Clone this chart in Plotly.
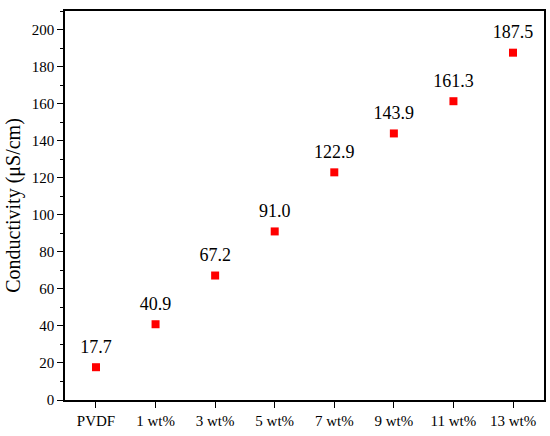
import plotly.graph_objs as go

# Sample labels and conductivity values (uS/cm)
samples = ['PVDF', '1 wt%', '3 wt%', '5 wt%', '7 wt%', '9 wt%', '11 wt%', '13 wt%']
conductivity = [17.7, 40.9, 67.2, 91.0, 122.9, 143.9, 161.3, 187.5]
value_labels = ['17.7', '40.9', '67.2', '91.0', '122.9', '143.9', '161.3', '187.5']

fig = go.Figure()

# red square markers
fig.add_trace(go.Scatter(
    x=samples,
    y=conductivity,
    mode='markers',
    marker=dict(symbol='square', size=8, color='#ff0000'),
    showlegend=False
))

# value labels (invisible larger markers push the text up a bit)
fig.add_trace(go.Scatter(
    x=samples,
    y=conductivity,
    mode='markers+text',
    text=value_labels,
    textposition='top center',
    textfont=dict(size=18, color='black'),
    marker=dict(size=14, color='rgba(0,0,0,0)'),
    cliponaxis=False,
    hoverinfo='skip',
    showlegend=False
))

fig.update_layout(
    width=550, height=436,
    margin=dict(l=65, r=6, t=11, b=36),
    plot_bgcolor='white',
    paper_bgcolor='white',
    font=dict(family='Liberation Serif, Times New Roman, serif', size=15, color='black'),
)

fig.update_xaxes(
    type='category',
    range=[-0.52, 7.52],
    automargin=False,
    showline=True, linecolor='black', linewidth=1.5, mirror=True,
    ticks='outside', ticklen=6, tickwidth=1.2, tickcolor='black',
    showgrid=False, zeroline=False,
    tickfont=dict(size=15)
)

fig.update_yaxes(
    range=[0, 210],
    dtick=20,
    automargin=False,
    title=dict(text='Conductivity (μS/cm)', font=dict(size=20), standoff=6),
    showline=True, linecolor='black', linewidth=1.5, mirror=True,
    ticks='outside', ticklen=6, tickwidth=1.2, tickcolor='black',
    minor=dict(dtick=10, ticks='outside', ticklen=3, tickwidth=1.2, tickcolor='black'),
    showgrid=False, zeroline=False,
    tickfont=dict(size=15)
)

# drop the default page margin so the figure sits at the window corner
fig.write_html('out.html', config={'displayModeBar': False},
               post_script="document.body.style.margin='0';")
